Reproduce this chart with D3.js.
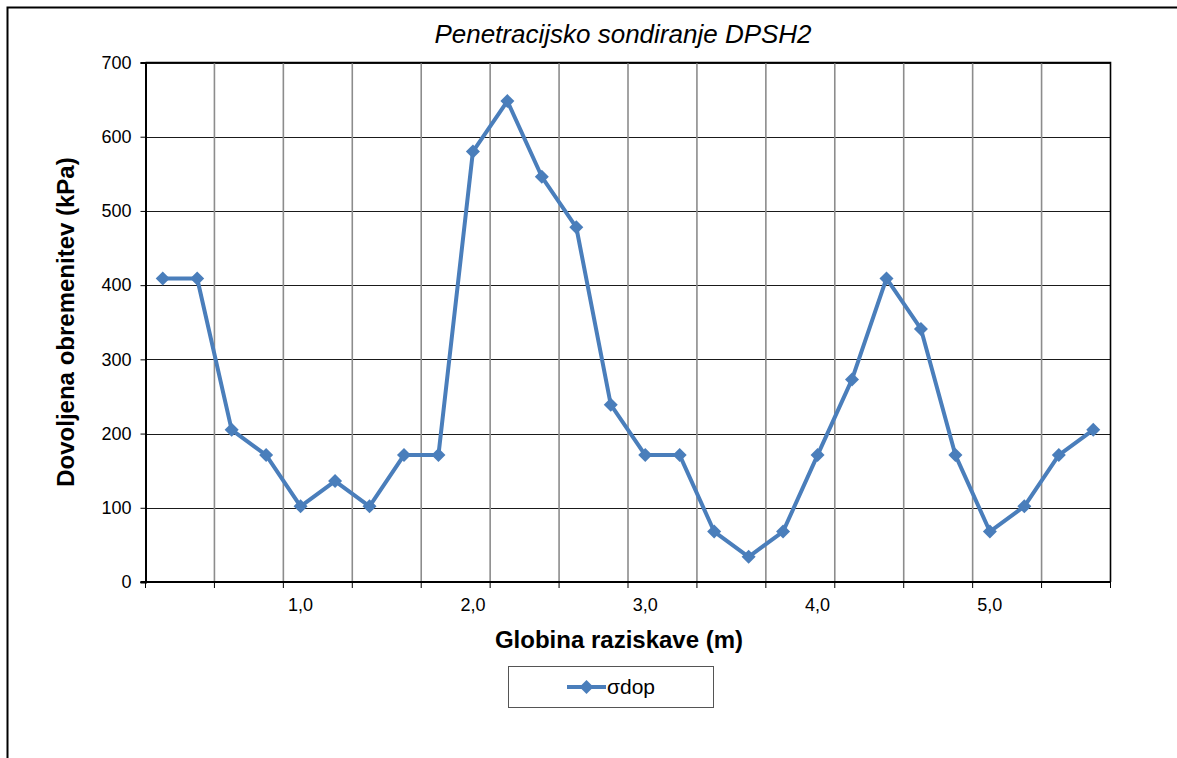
<!DOCTYPE html>
<html>
<head>
<meta charset="utf-8">
<script src="https://cdn.jsdelivr.net/npm/d3@7"></script>
<style>
  body { margin: 0; background: #fff; }
  svg { display: block; font-family: "Liberation Sans", Arial, sans-serif; }
</style>
</head>
<body>
<svg id="chart" width="1177" height="758"></svg>
<script>
// depth of each reading (m) - category axis
var depths = [0.2, 0.4, 0.6, 0.8, 1.0, 1.2, 1.4, 1.6, 1.8, 2.0, 2.2, 2.4, 2.6, 2.8,
              3.0, 3.2, 3.4, 3.6, 3.8, 4.0, 4.2, 4.4, 4.6, 4.8, 5.0, 5.2, 5.4, 5.6];
// allowed load sigma_dop (kPa)
var sdop = [409, 409, 205, 171, 102, 136, 102, 171, 171, 580, 648, 546, 478, 239,
            171, 171, 68, 34, 68, 171, 273, 409, 341, 171, 68, 102, 171, 205];
var xLabels = [1.0, 2.0, 3.0, 4.0, 5.0];
var yTicks = [0, 100, 200, 300, 400, 500, 600, 700];

var svg = d3.select("#chart");
var pLeft = 145.5, pRight = 1110.5, pTop = 62.5, pBottom = 582;

// outer chart frame
svg.append("rect")
    .attr("x", 7.5).attr("y", 7.5)
    .attr("width", 1200).attr("height", 800)
    .attr("fill", "none").attr("stroke", "#000").attr("stroke-width", 2);

var x = d3.scaleBand().domain(depths).range([pLeft, pRight]).padding(0);
var y = d3.scaleLinear().domain([0, 700]).range([pBottom, pTop]);

// horizontal gridlines
svg.append("g").selectAll("line")
    .data(yTicks.slice(1))
    .enter().append("line")
    .attr("x1", pLeft).attr("x2", pRight)
    .attr("y1", function (d) { return Math.round(y(d)) + 0.5; })
    .attr("y2", function (d) { return Math.round(y(d)) + 0.5; })
    .attr("stroke", "#1a1a1a").attr("stroke-width", 1);

// vertical gridlines every 2 categories (at category boundaries)
var vLines = depths.filter(function (d, i) { return i % 2 == 0 && i > 0; });
svg.append("g").selectAll("line")
    .data(vLines)
    .enter().append("line")
    .attr("x1", function (d) { return x(d); })
    .attr("x2", function (d) { return x(d); })
    .attr("y1", pTop).attr("y2", pBottom)
    .attr("stroke", "#8c8c8c").attr("stroke-width", 1.6);

// plot border (top/right)
svg.append("path")
    .attr("d", "M" + pLeft + "," + pTop + "H" + pRight + "V" + pBottom)
    .attr("fill", "none").attr("stroke", "#000").attr("stroke-width", 1.6);

// y axis
var yAxis = d3.axisLeft(y).tickValues(yTicks).tickSize(5).tickPadding(9)
    .tickFormat(d3.format("d"));
var gy = svg.append("g").attr("transform", "translate(" + pLeft + ",0)").call(yAxis);
gy.select(".domain").attr("stroke", "#000").attr("stroke-width", 2);
gy.selectAll(".tick line").attr("stroke", "#000");
gy.selectAll("text").attr("font-size", 18).attr("fill", "#000")
    .attr("font-family", "Liberation Sans, Arial, sans-serif");

// x axis line and tick marks
svg.append("line")
    .attr("x1", pLeft - 5).attr("x2", pRight)
    .attr("y1", pBottom).attr("y2", pBottom)
    .attr("stroke", "#000").attr("stroke-width", 2);
var tickPos = depths.filter(function (d, i) { return i % 2 == 0; });
svg.append("g").selectAll("line")
    .data(tickPos)
    .enter().append("line")
    .attr("x1", function (d) { return x(d); })
    .attr("x2", function (d) { return x(d); })
    .attr("y1", pBottom).attr("y2", pBottom + 6)
    .attr("stroke", "#000").attr("stroke-width", 1);
svg.append("line")
    .attr("x1", pRight).attr("x2", pRight).attr("y1", pBottom).attr("y2", pBottom + 6)
    .attr("stroke", "#000");

// x labels, centred on their category
svg.append("g").selectAll("text")
    .data(xLabels)
    .enter().append("text")
    .attr("x", function (d) { return x(d) + x.bandwidth() / 2; })
    .attr("y", pBottom + 29)
    .attr("text-anchor", "middle")
    .attr("font-size", 18)
    .text(function (d) { return d.toFixed(1).replace(".", ","); });

// series line + diamond markers
var line = d3.line()
    .x(function (d, i) { return x(depths[i]) + x.bandwidth() / 2; })
    .y(function (d) { return y(d); });
svg.append("path")
    .datum(sdop)
    .attr("d", line)
    .attr("fill", "none")
    .attr("stroke", "#4A7EBB")
    .attr("stroke-width", 4)
    .attr("stroke-linejoin", "round");

var diamond = d3.symbol().type(d3.symbolDiamond2).size(125);
svg.append("g").selectAll("path")
    .data(sdop)
    .enter().append("path")
    .attr("d", diamond)
    .attr("transform", function (d, i) {
        return "translate(" + (x(depths[i]) + x.bandwidth() / 2) + "," + y(d) + ")";
    })
    .attr("fill", "#4A7EBB");

// titles
svg.append("text")
    .attr("x", 623).attr("y", 43)
    .attr("text-anchor", "middle")
    .attr("font-size", 26).attr("font-style", "italic")
    .text("Penetracijsko sondiranje DPSH2");

svg.append("text")
    .attr("x", 619).attr("y", 648)
    .attr("text-anchor", "middle")
    .attr("font-size", 24).attr("font-weight", "bold")
    .text("Globina raziskave (m)");

svg.append("text")
    .attr("transform", "translate(74,322) rotate(-90)")
    .attr("text-anchor", "middle")
    .attr("font-size", 24).attr("font-weight", "bold")
    .text("Dovoljena obremenitev (kPa)");

// legend
var lg = svg.append("g");
lg.append("rect")
    .attr("x", 508.5).attr("y", 666.5).attr("width", 205).attr("height", 41)
    .attr("fill", "#fff").attr("stroke", "#555").attr("stroke-width", 1);
lg.append("line")
    .attr("x1", 567).attr("x2", 606).attr("y1", 687).attr("y2", 687)
    .attr("stroke", "#4A7EBB").attr("stroke-width", 4);
lg.append("path")
    .attr("d", diamond)
    .attr("transform", "translate(586.5,687)")
    .attr("fill", "#4A7EBB");
lg.append("text")
    .attr("x", 607).attr("y", 694)
    .attr("font-size", 21)
    .text("σdop");
</script>
</body>
</html>
